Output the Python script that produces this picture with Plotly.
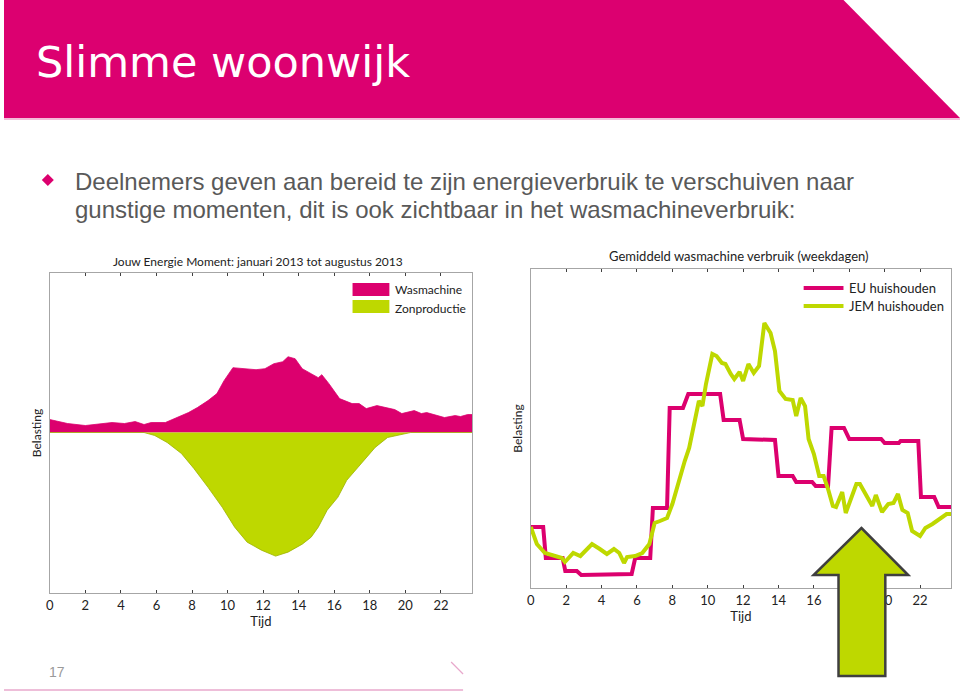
import plotly.graph_objects as go

# ---------------- data ----------------
tick_vals = [0, 2, 4, 6, 8, 10, 12, 14, 16, 18, 20, 22]
tick_labels = ["0", "2", "4", "6", "8", "10", "12", "14", "16", "18", "20", "22"]

# Left chart: Jouw Energie Moment (arbitrary load units)
wasmachine_h = [0, 1.0, 2.0, 2.9, 3.5, 4.2, 4.8, 5.3, 5.7, 6.5, 7.0, 7.8, 8.3, 8.9, 9.4, 9.8,
                10.3, 11.0, 11.6, 12.1, 12.6, 13.1, 13.4, 13.8, 14.2, 14.7, 15.1, 15.3, 15.7,
                16.3, 17.0, 17.4, 17.8, 18.4, 19.0, 19.4, 19.8, 20.5, 20.9, 21.2, 22.2, 22.8,
                23.1, 23.5, 23.75]
wasmachine_v = [13, 9, 7, 9, 10, 9, 11, 8, 10, 10, 14, 20, 25, 32, 39, 52,
                65, 64, 63, 64, 69, 71, 76, 74, 64, 59, 55, 58, 49,
                34, 29, 29, 24, 27, 25, 23, 19, 22, 19, 20, 15, 17,
                16, 18, 18]

zon_h = [0, 5.3, 5.9, 6.6, 7.4, 8.1, 8.9, 9.7, 10.4, 11.1, 11.9, 12.7, 13.4, 14.2, 14.7,
         15.1, 15.6, 16.2, 16.7, 17.5, 18.3, 19.0, 19.8, 20.3, 23.75]
zon_v = [0, 0, -3, -10, -21, -36, -55, -75, -95, -110, -118, -124, -120, -112, -105,
         -95, -78, -65, -48, -31, -15, -5, -2, 0, 0]

# Right chart: Gemiddeld wasmachine verbruik (weekdagen)
eu_h = [0, 0.7, 0.85, 1.8, 1.95, 2.6, 2.85, 3.7, 3.9, 5.7, 5.9, 6.75, 6.9, 7.7, 7.85, 8.6,
        8.9, 10.7, 10.9, 11.8, 12.0, 12.9, 13.0, 13.8, 14.0, 14.8, 15.0, 15.9, 16.1, 16.8,
        17.0, 17.7, 18.0, 19.8, 20.0, 20.8, 20.9, 21.9, 22.05, 22.8, 23.05, 23.75]
eu_v = [61, 61, 30, 30, 17, 17, 13, 13, 14, 14, 30, 30, 80, 80, 180, 180,
        194, 194, 168, 168, 149, 149, 148, 148, 112, 112, 106, 106, 102, 102,
        160, 160, 149, 149, 145, 145, 147, 147, 91, 91, 81, 81]

jem_h = [0, 0.34, 0.8, 1.76, 1.93, 2.4, 2.8, 3.46, 3.9, 4.3, 4.7, 5.0, 5.27, 5.44, 5.9, 6.3,
         6.7, 7.0, 7.3, 7.7, 8.0, 8.4, 8.7, 8.95, 9.2, 9.5, 9.7, 9.9, 10.26, 10.5, 10.8,
         11.0, 11.3, 11.5, 11.8, 12.0, 12.3, 12.6, 12.9, 13.2, 13.55, 13.8, 14.05, 14.4,
         14.8, 15.0, 15.25, 15.5, 15.7, 16.0, 16.3, 16.55, 16.8, 17.07, 17.25, 17.6, 17.8,
         18.4, 18.6, 18.95, 19.3, 19.5, 19.85, 20.2, 20.5, 20.75, 21.0, 21.3, 21.55, 22.0,
         22.3, 22.7, 23.1, 23.5, 23.75]
jem_v = [61, 44, 35, 30, 26, 35, 32, 44, 39, 34, 39, 35, 25, 31, 32, 35,
         44, 65, 67, 70, 84, 110, 127, 140, 160, 187, 182, 204, 234, 232, 225,
         224, 214, 209, 216, 207, 224, 215, 222, 265, 255, 237, 197, 189,
         188, 172, 190, 182, 149, 134, 112, 112, 99, 82, 81, 96, 75,
         104, 104, 92, 82, 93, 76, 84, 85, 94, 78, 75, 57, 52,
         60, 64, 69, 74, 74]

# ---------------- style ----------------
W, H = 960, 692
MAGENTA = "#DC006E"
GREEN = "#BED800"
GRAY_TXT = "#595959"
AXIS_GRAY = "#A6A6A6"
CHART_FONT = "Lato, Open Sans, sans-serif"


def px(x):
    return x / W


def py(y):
    return 1 - y / H


fig = go.Figure()

# left chart areas
fig.add_trace(go.Scatter(x=wasmachine_h, y=wasmachine_v, mode="lines", fill="tozeroy",
                         line=dict(color=MAGENTA, width=0.8), fillcolor=MAGENTA,
                         name="Wasmachine", showlegend=False, xaxis="x", yaxis="y"))
fig.add_trace(go.Scatter(x=zon_h, y=zon_v, mode="lines", fill="tozeroy",
                         line=dict(color="#9DB300", width=0.8), fillcolor=GREEN,
                         name="Zonproductie", showlegend=False, xaxis="x", yaxis="y"))

# right chart lines
fig.add_trace(go.Scatter(x=eu_h, y=eu_v, mode="lines",
                         line=dict(color=MAGENTA, width=4),
                         name="EU huishouden", showlegend=False, xaxis="x2", yaxis="y2"))
fig.add_trace(go.Scatter(x=jem_h, y=jem_v, mode="lines",
                         line=dict(color=GREEN, width=4),
                         name="JEM huishouden", showlegend=False, xaxis="x2", yaxis="y2"))

xcommon = dict(range=[0, 23.75], tickvals=tick_vals, ticktext=tick_labels,
               ticks="inside", ticklen=3, tickwidth=1, tickcolor="#404040",
               showline=True, linecolor=AXIS_GRAY, linewidth=1, mirror="ticks",
               showgrid=False, zeroline=False,
               tickfont=dict(family=CHART_FONT, size=13, color="#222"),
               fixedrange=True)
ycommon = dict(showline=True, linecolor=AXIS_GRAY, linewidth=1, mirror=True,
               showgrid=False, zeroline=False, showticklabels=False, ticks="",
               fixedrange=True)

fig.update_layout(
    width=W, height=H, autosize=False,
    margin=dict(l=0, r=0, t=0, b=0),
    paper_bgcolor="white", plot_bgcolor="white",
    showlegend=False,
    xaxis=dict(domain=[px(46), px(470)], anchor="y",
               title=dict(text="Tijd", font=dict(family=CHART_FONT, size=13, color="#222"),
                          standoff=4), **xcommon),
    yaxis=dict(domain=[py(593), py(273)], anchor="x", range=[-161, 160],
               title=dict(text="Belasting", font=dict(family=CHART_FONT, size=12, color="#222"),
                          standoff=4), **ycommon),
    xaxis2=dict(domain=[px(529), px(951)], anchor="y2",
                title=dict(text="Tijd", font=dict(family=CHART_FONT, size=13, color="#222"),
                           standoff=4), **xcommon),
    yaxis2=dict(domain=[py(588), py(269)], anchor="x2", range=[0, 319],
                title=dict(text="Belasting", font=dict(family=CHART_FONT, size=12, color="#222"),
                           standoff=4), **ycommon),
)

shapes = []
# header band with diagonal cut
shapes.append(dict(type="path", xref="paper", yref="paper",
                   path=f"M {px(0)},{py(0)} L {px(843)},{py(0)} L {px(960)},{py(118)} L {px(0)},{py(118)} Z",
                   fillcolor="#DC0070", line=dict(width=0), layer="below"))
shapes.append(dict(type="line", xref="paper", yref="paper",
                   x0=px(0), x1=px(960), y0=py(119), y1=py(119),
                   line=dict(color="#EFA6CC", width=1.5)))
# bullet diamond
shapes.append(dict(type="path", xref="paper", yref="paper",
                   path=f"M {px(44)},{py(174)} L {px(50)},{py(180)} L {px(44)},{py(186)} L {px(38)},{py(180)} Z",
                   fillcolor=MAGENTA, line=dict(width=0)))
# left legend patches
shapes.append(dict(type="rect", xref="paper", yref="paper",
                   x0=px(350), x1=px(387), y0=py(296), y1=py(283),
                   fillcolor=MAGENTA, line=dict(width=0)))
shapes.append(dict(type="rect", xref="paper", yref="paper",
                   x0=px(350), x1=px(387), y0=py(313), y1=py(300),
                   fillcolor=GREEN, line=dict(width=0)))
# right legend lines
shapes.append(dict(type="line", xref="paper", yref="paper",
                   x0=px(803), x1=px(843), y0=py(288), y1=py(288),
                   line=dict(color=MAGENTA, width=4)))
shapes.append(dict(type="line", xref="paper", yref="paper",
                   x0=px(803), x1=px(843), y0=py(306), y1=py(306),
                   line=dict(color=GREEN, width=4)))
# green up arrow
arrow = [(861, 528), (908, 575), (885, 575), (885, 676), (838, 676), (838, 575), (813, 575)]
path = "M " + " L ".join(f"{px(a)},{py(b)}" for a, b in arrow) + " Z"
shapes.append(dict(type="path", xref="paper", yref="paper", path=path,
                   fillcolor="#BED800", line=dict(color="#3F3F3F", width=2.5)))
# bottom decorations
shapes.append(dict(type="line", xref="paper", yref="paper",
                   x0=px(0), x1=px(461), y0=py(690), y1=py(690),
                   line=dict(color="#E8A8CC", width=1.5)))
shapes.append(dict(type="line", xref="paper", yref="paper",
                   x0=px(449), x1=px(461), y0=py(662), y1=py(674),
                   line=dict(color="#E8A8CC", width=1.2)))
fig.update_layout(shapes=shapes)

ann = []
ann.append(dict(text="Slimme woonwijk", x=px(30), y=py(62), xref="paper", yref="paper",
                xanchor="left", yanchor="middle", showarrow=False,
                font=dict(family="DejaVu Sans", size=43, color="white")))
BULLET_FONT = "Liberation Sans, Arial, sans-serif"
ann.append(dict(text="Deelnemers geven aan bereid te zijn energieverbruik te verschuiven naar",
                x=px(69), y=py(181), xref="paper", yref="paper", xanchor="left", yanchor="middle",
                showarrow=False, font=dict(family=BULLET_FONT, size=24, color=GRAY_TXT)))
ann.append(dict(text="gunstige momenten, dit is ook zichtbaar in het wasmachineverbruik:",
                x=px(69), y=py(209), xref="paper", yref="paper", xanchor="left", yanchor="middle",
                showarrow=False, font=dict(family=BULLET_FONT, size=24, color=GRAY_TXT)))
ann.append(dict(text="Jouw Energie Moment: januari 2013 tot augustus 2013",
                x=px(255), y=py(261), xref="paper", yref="paper", xanchor="center", yanchor="middle",
                showarrow=False, font=dict(family=CHART_FONT, size=12, color="#222")))
ann.append(dict(text="Gemiddeld wasmachine verbruik (weekdagen)",
                x=px(738), y=py(256), xref="paper", yref="paper", xanchor="center", yanchor="middle",
                showarrow=False, font=dict(family=CHART_FONT, size=13, color="#222")))
ann.append(dict(text="Wasmachine", x=px(391), y=py(290), xref="paper", yref="paper",
                xanchor="left", yanchor="middle", showarrow=False,
                font=dict(family=CHART_FONT, size=12, color="#222")))
ann.append(dict(text="Zonproductie", x=px(391), y=py(308), xref="paper", yref="paper",
                xanchor="left", yanchor="middle", showarrow=False,
                font=dict(family=CHART_FONT, size=12, color="#222")))
ann.append(dict(text="EU huishouden", x=px(847), y=py(288), xref="paper", yref="paper",
                xanchor="left", yanchor="middle", showarrow=False,
                font=dict(family=CHART_FONT, size=13, color="#222")))
ann.append(dict(text="JEM huishouden", x=px(847), y=py(306), xref="paper", yref="paper",
                xanchor="left", yanchor="middle", showarrow=False,
                font=dict(family=CHART_FONT, size=13, color="#222")))
ann.append(dict(text="17", x=px(43), y=py(672), xref="paper", yref="paper",
                xanchor="left", yanchor="middle", showarrow=False,
                font=dict(family="Liberation Sans, sans-serif", size=14, color="#9A9A9A")))
fig.update_layout(annotations=ann)

fig.write_html("out.html",
               config={"displayModeBar": False, "staticPlot": True},
               post_script="document.body.style.margin='0';document.body.style.padding='0';"
                           "document.body.style.overflow='hidden';")
